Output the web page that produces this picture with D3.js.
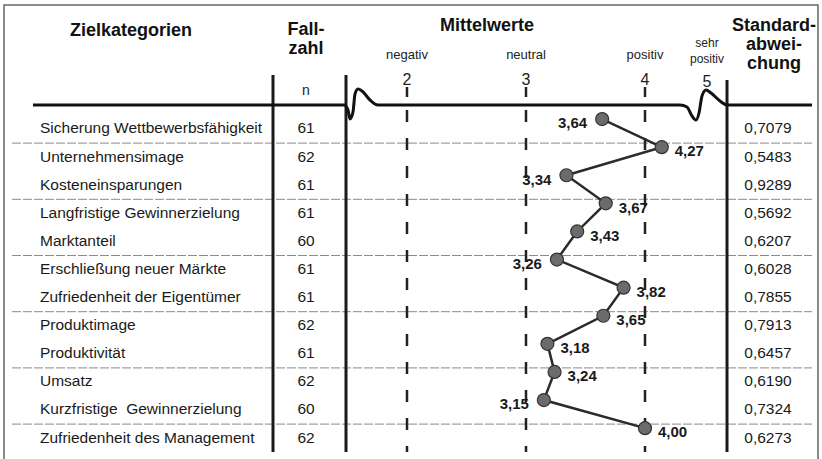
<!DOCTYPE html>
<html>
<head>
<meta charset="utf-8">
<script src="https://cdn.jsdelivr.net/npm/d3@7"></script>
<style>
  body { margin: 0; background: #fff; }
  svg { display: block; font-family: "Liberation Sans", Arial, sans-serif; }
</style>
</head>
<body>
<svg id="chart" width="822" height="459"></svg>
<script>
const categories = [
  "Sicherung Wettbewerbsfähigkeit",
  "Unternehmensimage",
  "Kosteneinsparungen",
  "Langfristige Gewinnerzielung",
  "Marktanteil",
  "Erschließung neuer Märkte",
  "Zufriedenheit der Eigentümer",
  "Produktimage",
  "Produktivität",
  "Umsatz",
  "Kurzfristige  Gewinnerzielung",
  "Zufriedenheit des Management"
];
const fallzahl = [61, 62, 61, 61, 60, 61, 61, 62, 61, 62, 60, 62];
const mittelwerte = [3.64, 4.27, 3.34, 3.67, 3.43, 3.26, 3.82, 3.65, 3.18, 3.24, 3.15, 4.00];
const stdabw = ["0,7079", "0,5483", "0,9289", "0,5692", "0,6207", "0,6028",
                "0,7855", "0,7913", "0,6457", "0,6190", "0,7324", "0,6273"];
const labelSide = ["l", "r", "l", "r", "r", "l", "r", "r", "r", "r", "l", "r"];
const scaleTicks = [2, 3, 4, 5];
const scaleNames = ["negativ", "neutral", "positiv", "sehr positiv"];

const svg = d3.select("#chart");
const fmt = v => d3.format(".2f")(v).replace(".", ",");

// broken axis: 4 -> 5 is squeezed
const x = d3.scaleLinear().domain([2, 4, 5]).range([407, 645, 707]);
const y = d3.scaleBand().domain(categories).range([114, 451.2]).padding(0);
const mid = c => y(c) + y.bandwidth() / 2;

const colName = 40, colN = 306, colStd = 768;
const axisY = 105;

// frame
svg.append("rect")
  .attr("x", 4).attr("y", 5).attr("width", 814).attr("height", 470)
  .attr("fill", "none").attr("stroke", "#666").attr("stroke-width", 1.5);

// header
const head = svg.append("g").attr("font-weight", "bold").attr("font-size", 18).attr("fill", "#111")
  .attr("text-anchor", "middle");
head.append("text").attr("x", 131).attr("y", 36).text("Zielkategorien");
head.append("text").attr("x", 306).attr("y", 35).text("Fall-");
head.append("text").attr("x", 306).attr("y", 54).text("zahl");
head.append("text").attr("x", 487).attr("y", 31).text("Mittelwerte");
head.append("text").attr("x", 774).attr("y", 31).text("Standard-");
head.append("text").attr("x", 774).attr("y", 50).text("abwei-");
head.append("text").attr("x", 774).attr("y", 69).text("chung");

svg.append("text").attr("x", colN).attr("y", 95).attr("text-anchor", "middle")
  .attr("font-size", 14).attr("fill", "#222").text("n");

// scale names
scaleNames.forEach((name, i) => {
  const g = svg.append("text").attr("text-anchor", "middle").attr("fill", "#222");
  if (name === "sehr positiv") {
    g.attr("font-size", 12);
    name.split(" ").forEach((w, k) => g.append("tspan").attr("x", x(scaleTicks[i])).attr("y", 47 + k * 16).text(w));
  } else {
    g.attr("font-size", 13).attr("x", x(scaleTicks[i])).attr("y", 59).text(name);
  }
});

// tick numbers
svg.append("g").selectAll("text").data(scaleTicks).join("text")
  .attr("x", d => x(d)).attr("y", d => d === 5 ? 87 : 85)
  .attr("text-anchor", "middle").attr("font-size", 16).attr("fill", "#222")
  .text(d => d);

// small tick marks above the axis
svg.append("g").selectAll("line").data(scaleTicks.slice(0, 3)).join("line")
  .attr("x1", d => x(d)).attr("x2", d => x(d)).attr("y1", 87).attr("y2", 97)
  .attr("stroke", "#222").attr("stroke-width", 2.5);

// dashed row separators
const sepRows = categories.filter((c, i) => i % 2 === 0 && i < categories.length - 1);
svg.append("g").selectAll("line").data(sepRows).join("line")
  .attr("x1", 12).attr("x2", 812)
  .attr("y1", d => y(d) + y.step() + 1).attr("y2", d => y(d) + y.step() + 1)
  .attr("stroke", "#8a8a8a").attr("stroke-width", 1).attr("stroke-dasharray", "9,2");

// dashed reference lines
svg.append("g").selectAll("line").data(scaleTicks.slice(0, 3)).join("line")
  .attr("x1", d => x(d)).attr("x2", d => x(d)).attr("y1", 110).attr("y2", 452)
  .attr("stroke", "#222").attr("stroke-width", 2.5).attr("stroke-dasharray", "12,16");

// column rules
svg.append("g").selectAll("line").data([[273, 75], [346, 75], [727, 80]]).join("line")
  .attr("x1", d => d[0]).attr("x2", d => d[0]).attr("y1", d => d[1]).attr("y2", 452)
  .attr("stroke", "#1a1a1a").attr("stroke-width", 3);

// axis line with breaks
const axisPts = [[33, axisY], [344, axisY], [348, 110], [350, 119], [353, 112], [355, 94], [358, 89],
  [362, 91], [370, 100], [378, axisY], [680, axisY], [687, 107], [692, 116], [696, 120], [699, 113],
  [702, 96], [706, 90], [711, 93], [720, 101], [727, axisY], [812, axisY]];
svg.append("path")
  .attr("d", d3.line().curve(d3.curveMonotoneX)(axisPts))
  .attr("fill", "none").attr("stroke", "#111").attr("stroke-width", 3);

// table text
const rows = svg.append("g").attr("font-size", 15.5).attr("fill", "#1a1a1a");
rows.selectAll(".name").data(categories).join("text").attr("class", "name")
  .attr("x", colName).attr("y", d => mid(d)).attr("dy", "0.35em")
  .attr("xml:space", "preserve").style("white-space", "pre").text(d => d);
rows.selectAll(".n").data(categories).join("text").attr("class", "n")
  .attr("x", colN).attr("y", d => mid(d)).attr("dy", "0.35em").attr("text-anchor", "middle")
  .text((d, i) => fallzahl[i]);
rows.selectAll(".sd").data(categories).join("text").attr("class", "sd")
  .attr("x", colStd).attr("y", d => mid(d)).attr("dy", "0.35em").attr("text-anchor", "middle")
  .text((d, i) => stdabw[i]);

// profile line
const pts = categories.map((c, i) => ({ c, v: mittelwerte[i], side: labelSide[i] }));
const py = d => mid(d.c) - 9;
svg.append("path")
  .attr("d", d3.line().x(d => x(d.v)).y(py)(pts))
  .attr("fill", "none").attr("stroke", "#2a2a2a").attr("stroke-width", 2.5);

svg.append("g").selectAll("circle").data(pts).join("circle")
  .attr("cx", d => x(d.v)).attr("cy", py).attr("r", 6.5)
  .attr("fill", "#6b6b6b").attr("stroke", "#333").attr("stroke-width", 1.2);

svg.append("g").attr("font-size", 15).attr("font-weight", "bold").attr("fill", "#1a1a1a")
  .selectAll("text").data(pts).join("text")
  .attr("x", d => x(d.v) + (d.side === "l" ? -15 : 13))
  .attr("y", d => py(d) + 4).attr("dy", "0.35em")
  .attr("text-anchor", d => d.side === "l" ? "end" : "start")
  .text(d => fmt(d.v));
</script>
</body>
</html>
